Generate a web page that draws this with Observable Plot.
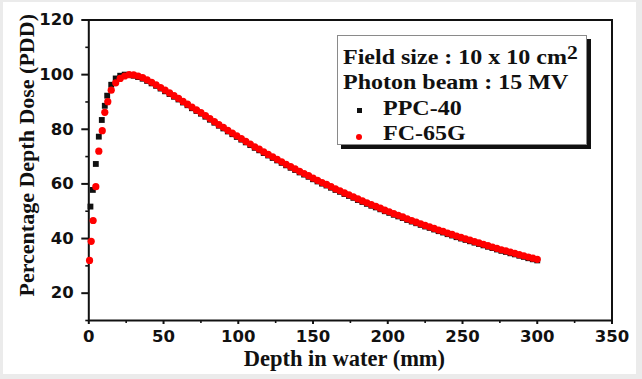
<!DOCTYPE html>
<html>
<head>
<meta charset="utf-8">
<script src="https://cdn.jsdelivr.net/npm/d3@7"></script>
<script src="https://cdn.jsdelivr.net/npm/@observablehq/plot@0.6"></script>
<style>
html,body{margin:0;padding:0;background:#ebebeb;width:642px;height:379px;overflow:hidden}
#card{position:absolute;left:3px;top:2px;width:633px;height:372px;background:#fff;overflow:hidden}
#card svg{position:absolute;left:0;top:0}
#legend{position:absolute;left:333.7px;top:33px;width:248px;height:108px;border:1px solid #8a8a8a;background:#fff;box-shadow:4px 4px 0 #111;font-family:"Liberation Serif","Times New Roman",serif;font-weight:bold;font-size:20px;color:#111}
.ln{position:absolute;line-height:20px;white-space:nowrap;transform:scaleX(1.2);transform-origin:0 0}
.ln sup{font-size:18px;position:relative;top:-5px;vertical-align:baseline;line-height:0}
.mk{position:absolute}
#card svg g[aria-label$="tick label"] text{font-family:"DejaVu Sans",sans-serif;font-size:16.5px;font-weight:bold}
</style>
</head>
<body>
<div id="card"><div id="legend"></div></div>
<script>
// ---- data ----
const seriesNames = ["PPC-40", "FC-65G"];
const seriesColors = ["#111111", "#ff0000"];
const infoLines = ["Field size : 10 x 10 cm", "Photon beam : 15 MV"];
const xLabel = "Depth in water (mm)";
const yLabel = "Percentage Depth Dose (PDD)";
const xTicks = [0, 50, 100, 150, 200, 250, 300, 350];
const xMinor = [25, 75, 125, 175, 225, 275, 325];
const yTicks = [20, 40, 60, 80, 100, 120];
const yMinor = [10, 30, 50, 70, 90, 110];

// build-up region (individual points)
const ppcBuildDepth = [1.1, 2.7, 4.7, 6.7, 8.7, 10.7, 12.3];
const ppcBuildPdd   = [51.7, 57.8, 67.3, 77.3, 83.4, 88.6, 92.3];
const fcBuildDepth  = [0.5, 1.6, 2.9, 4.7, 6.7, 9.0, 10.7, 12.7];
const fcBuildPdd    = [32.0, 39.0, 46.6, 59.0, 72.0, 79.5, 86.2, 90.1];

// dense region
const tailDepth = [15,18,21,24,27,30,33,36,39,42,45,48,51,54,57,60,63,66,69,72,75,78,81,84,87,90,93,96,99,
  102,105,108,111,114,117,120,123,126,129,132,135,138,141,144,147,150,153,156,159,162,165,168,171,174,177,
  180,183,186,189,192,195,198,201,204,207,210,213,216,219,222,225,228,231,234,237,240,243,246,249,252,255,
  258,261,264,267,270,273,276,279,282,285,288,291,294,297,300];
const fcTailPdd = [94.3,97.0,98.6,99.5,100.0,99.9,99.5,98.9,98.1,97.2,96.3,95.3,94.3,93.3,92.3,91.3,90.2,89.2,88.1,87.1,
  86.1,85.0,83.9,82.8,81.7,80.7,79.6,78.6,77.6,76.6,75.6,74.6,73.6,72.7,71.7,70.8,69.9,69.0,68.1,67.2,
  66.3,65.5,64.6,63.8,63.0,62.1,61.3,60.5,59.8,59.0,58.2,57.5,56.7,56.0,55.3,54.5,53.8,53.1,52.4,51.8,
  51.1,50.4,49.8,49.1,48.5,47.9,47.2,46.6,46.0,45.4,44.8,44.3,43.7,43.1,42.6,42.0,41.5,40.9,40.4,39.9,
  39.4,38.9,38.4,37.9,37.4,36.9,36.4,35.9,35.5,35.0,34.6,34.1,33.7,33.2,32.8,32.4];
const ppcTailPdd = [96.3,98.6,99.6,100.0,99.9,99.6,99.1,98.5,97.7,96.8,95.9,94.9,93.9,92.9,91.9,90.9,89.8,88.8,87.7,86.7,
  85.7,84.6,83.5,82.4,81.3,80.3,79.2,78.2,77.2,76.2,75.2,74.2,73.2,72.3,71.3,70.4,69.5,68.6,67.7,66.8,
  65.9,65.1,64.2,63.4,62.6,61.7,60.9,60.1,59.4,58.6,57.8,57.1,56.3,55.6,54.9,54.1,53.4,52.7,52.0,51.4,
  50.7,50.0,49.4,48.7,48.1,47.5,46.8,46.2,45.6,45.0,44.4,43.9,43.3,42.7,42.2,41.6,41.1,40.5,40.0,39.5,
  39.0,38.5,38.0,37.5,37.0,36.5,36.0,35.5,35.1,34.6,34.2,33.7,33.3,32.8,32.4,32.0];

// ---- tables ----
const ppc = ppcBuildDepth.map((d, i) => ({depth: d, pdd: ppcBuildPdd[i]}))
  .concat(tailDepth.map((d, i) => ({depth: d, pdd: ppcTailPdd[i]})));
const fc = fcBuildDepth.map((d, i) => ({depth: d, pdd: fcBuildPdd[i]}))
  .concat(tailDepth.map((d, i) => ({depth: d, pdd: fcTailPdd[i]})));

const serif = "Liberation Serif, Times New Roman, serif";
const tickFont = {fontFamily: "DejaVu Sans", fontSize: 16.5, fontWeight: "bold"};
const plot = Plot.plot({
  width: 633, height: 372,
  marginLeft: 85.3, marginRight: 24.5, marginTop: 17.5, marginBottom: 54,
  x: {domain: [0, 350]},
  y: {domain: [10, 120]},
  style: {fontFamily: "DejaVu Sans, sans-serif", fontSize: "16.5px", fontWeight: "bold", color: "#111", background: "transparent", overflow: "visible"},
  marks: [
    Plot.axisX({ticks: xMinor, tickSize: 3, tickFormat: () => "", label: null, strokeWidth: 1.6}),
    Plot.axisY({ticks: yMinor, tickSize: 3, tickFormat: () => "", label: null, strokeWidth: 1.6}),
    Plot.axisX({ticks: xTicks, tickSize: 4, tickPadding: 6, label: null, strokeWidth: 2, ...tickFont}),
    Plot.axisY({ticks: yTicks, tickSize: 7, tickPadding: 8, label: null, strokeWidth: 2, ...tickFont}),
    Plot.frame({stroke: "#111", strokeWidth: 2}),
    Plot.dot(ppc, {x: "depth", y: "pdd", symbol: "square", r: 3.3, fill: seriesColors[0]}),
    Plot.dot(fc, {x: "depth", y: "pdd", r: 3.6, fill: seriesColors[1]}),
    Plot.text([xLabel], {text: d => d, frameAnchor: "bottom", textAnchor: "middle", dy: 45, dx: -6, fontFamily: serif, fontSize: 22.5, fontWeight: "bold", fill: "#111"}),
    Plot.text([yLabel], {text: d => d, frameAnchor: "left", textAnchor: "middle", lineAnchor: "middle", rotate: -90, dx: -62, dy: -15, fontFamily: serif, fontSize: 22, fontWeight: "bold", fill: "#111"})
  ]
});
document.getElementById("card").prepend(plot);

// legend
const lg = document.getElementById("legend");
const lines = [
  {html: infoLines[0] + "<sup>2</sup>", left: 5.6, top: 10.5},
  {html: infoLines[1], left: 5.6, top: 35.5},
  {html: seriesNames[0], left: 45.6, top: 61.5},
  {html: seriesNames[1], left: 45.6, top: 87.2}
];
lines.forEach(l => {
  const d = document.createElement("div");
  d.className = "ln"; d.style.left = l.left + "px"; d.style.top = l.top + "px"; d.innerHTML = l.html;
  lg.appendChild(d);
});
const sq = document.createElement("div");
sq.className = "mk"; Object.assign(sq.style, {left: "19.1px", top: "72.2px", width: "5px", height: "5px", background: seriesColors[0]});
lg.appendChild(sq);
const ci = document.createElement("div");
ci.className = "mk"; Object.assign(ci.style, {left: "18.6px", top: "98.3px", width: "6px", height: "6px", borderRadius: "50%", background: seriesColors[1]});
lg.appendChild(ci);
</script>
</body>
</html>
